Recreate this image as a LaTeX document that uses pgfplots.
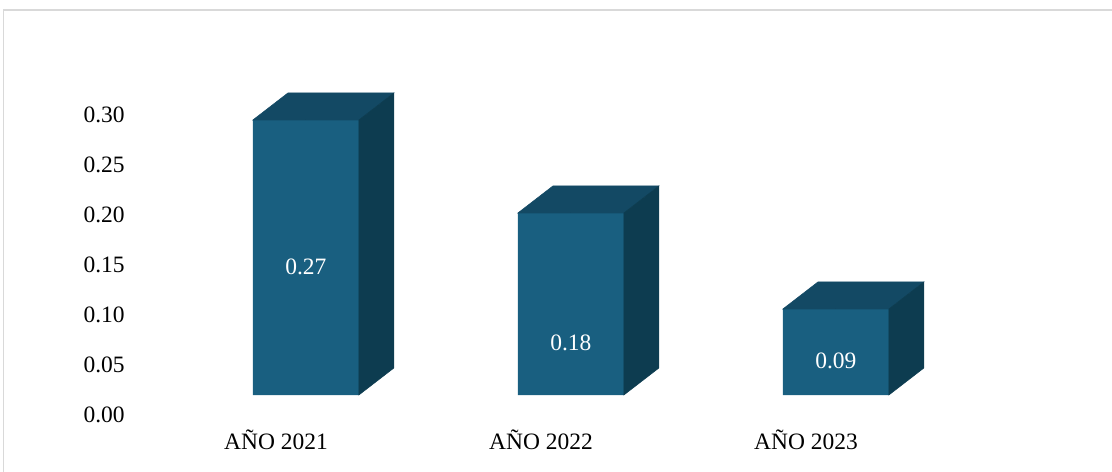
\documentclass[border=0pt]{standalone}
\usepackage{fontspec}
\setmainfont{Liberation Serif}
\usepackage{pgfplots}
\usepackage{pgfplotstable}
\pgfplotsset{compat=1.18}
\definecolor{frontc}{RGB}{25,95,128}
\definecolor{topc}{RGB}{19,73,100}
\definecolor{sidec}{RGB}{13,60,80}
\definecolor{framec}{RGB}{217,217,217}
\pgfplotstableread{
x v ly lab
0 0.275 0.128 0.27
1 0.182 0.052 0.18
2 0.086 0.034 0.09
}\data
\begin{document}
\begin{tikzpicture}[x=1pt,y=1pt]
\useasboundingbox (0,0) rectangle (834,353.25);
\draw[framec, line width=1.1pt] (2.6,-10) rectangle (850,345.75);
\begin{axis}[
  anchor=origin, at={(229.4pt,57pt)},
  x=198.75pt, y=750pt,
  xmin=-0.6675, xmax=2.5, ymin=-0.02, ymax=0.32,
  axis line style={draw=none},
  major tick length=0pt,
  clip=false,
  xtick={0,1,2},
  xticklabels={AÑO 2021,AÑO 2022,AÑO 2023},
  ytick={0,0.05,0.10,0.15,0.20,0.25,0.30},
  yticklabels={0.00,0.05,0.10,0.15,0.20,0.25,0.30},
  tick label style={font=\fontsize{17.6}{20}\selectfont, text=black},
  yticklabel style={anchor=east, inner sep=0pt, xshift=-3pt, yshift=-15pt},
  xticklabel style={anchor=base, inner sep=0pt, xshift=-22.4pt, yshift=-25.5pt},
]
\addplot[ybar, bar width=79.5pt, fill=frontc, draw=none] table[x=x,y=v] {\data};
\addplot[scatter, only marks, mark=*, mark size=0pt, mark options={draw=none,fill=none},
  scatter/use mapped color={draw=none,fill=none},
  visualization depends on={\thisrow{v}*750 \as \barH},
  scatter/@pre marker code/.code={
    \fill[topc] (-39.75pt,0pt) -- (39.75pt,0pt) -- (66pt,20.25pt) -- (-13.5pt,20.25pt) -- cycle;
    \fill[sidec] (39.75pt,0pt) -- (66pt,20.25pt) -- (66pt,{20.25pt-\barH pt}) -- (39.75pt,{-\barH pt}) -- cycle;
  },
  scatter/@post marker code/.code={}
] table[x=x,y=v] {\data};
\addplot[draw=none, mark=none, nodes near coords, point meta=explicit symbolic,
  every node near coord/.append style={anchor=center, text=white, font=\fontsize{17.6}{20}\selectfont}
] table[x=x,y=ly,meta=lab] {\data};
\end{axis}
\end{tikzpicture}
\end{document}
